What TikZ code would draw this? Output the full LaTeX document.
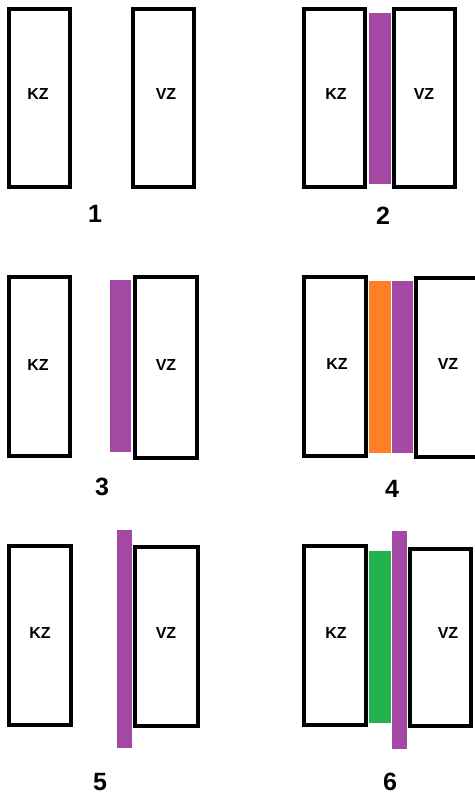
\documentclass[tikz,border=0pt]{standalone}
\usepackage{fontspec}
\setmainfont{Liberation Sans}
\begin{document}
\begin{tikzpicture}[x=1pt,y=-1pt,
  box/.style={draw=black,line width=4pt,rectangle,inner sep=0pt,fill=white},
  lbl/.style={font=\bfseries\fontsize{16}{16}\selectfont,inner sep=0pt},
  num/.style={font=\bfseries\fontsize{25}{25}\selectfont,inner sep=0pt},
  bar/.style={rectangle,inner sep=0pt,draw=none}]
\definecolor{pp}{RGB}{163,73,164}
\definecolor{og}{RGB}{255,127,39}
\definecolor{gr}{RGB}{34,177,76}
\useasboundingbox[fill=white] (0,0) rectangle (474,795);
% Panel 1
\node[box,minimum width=61pt,minimum height=178pt] (kz1) at (39.5,98) {};
\node[box,minimum width=61pt,minimum height=178pt] (vz1) at (163.5,98) {};
\node[lbl] (kz1t) at (38,94) {KZ};
\node[lbl] (vz1t) at (166,94) {VZ};
\node[num] (n1) at (95,214) {1};
% Panel 2
\node[box,minimum width=61pt,minimum height=178pt] (kz2) at (334.5,98) {};
\node[bar,fill=pp,minimum width=22pt,minimum height=171pt] (p2) at (380,98.5) {};
\node[box,minimum width=61pt,minimum height=178pt] (vz2) at (424.5,98) {};
\node[lbl] (kz2t) at (336,94) {KZ};
\node[lbl] (vz2t) at (424,94) {VZ};
\node[num] (n2) at (383,216) {2};
% Panel 3
\node[box,minimum width=61pt,minimum height=179pt] (kz3) at (39.5,366.5) {};
\node[bar,fill=pp,minimum width=21pt,minimum height=172pt] (p3) at (120.5,366) {};
\node[box,minimum width=62pt,minimum height=181pt] (vz3) at (166,367.5) {};
\node[lbl] (kz3t) at (38,365) {KZ};
\node[lbl] (vz3t) at (166,365) {VZ};
\node[num] (n3) at (102,487) {3};
% Panel 4
\node[box,minimum width=62pt,minimum height=179pt] (kz4) at (335,366.5) {};
\node[bar,fill=og,minimum width=22pt,minimum height=172pt] (o4) at (380,367) {};
\node[bar,fill=pp,minimum width=21pt,minimum height=172pt] (p4) at (402.5,367) {};
\node[box,minimum width=68pt,minimum height=179pt] (vz4) at (450,367.5) {};
\node[lbl] (kz4t) at (337,364) {KZ};
\node[lbl] (vz4t) at (448,364) {VZ};
\node[num] (n4) at (392,489) {4};
% Panel 5
\node[box,minimum width=62pt,minimum height=179pt] (kz5) at (40,635.5) {};
\node[bar,fill=pp,minimum width=15pt,minimum height=218pt] (p5) at (124.5,639) {};
\node[box,minimum width=63pt,minimum height=179pt] (vz5) at (166.5,636.5) {};
\node[lbl] (kz5t) at (40,633) {KZ};
\node[lbl] (vz5t) at (166,633) {VZ};
\node[num] (n5) at (100,782) {5};
% Panel 6
\node[box,minimum width=62pt,minimum height=179pt] (kz6) at (335,635.5) {};
\node[bar,fill=gr,minimum width=22pt,minimum height=172pt] (g6) at (380,637) {};
\node[bar,fill=pp,minimum width=15pt,minimum height=218pt] (p6) at (399.5,640) {};
\node[box,minimum width=61pt,minimum height=177pt] (vz6) at (440.5,637.5) {};
\node[lbl] (kz6t) at (336,633) {KZ};
\node[lbl] (vz6t) at (448,633) {VZ};
\node[num] (n6) at (390,782) {6};
\end{tikzpicture}
\end{document}
